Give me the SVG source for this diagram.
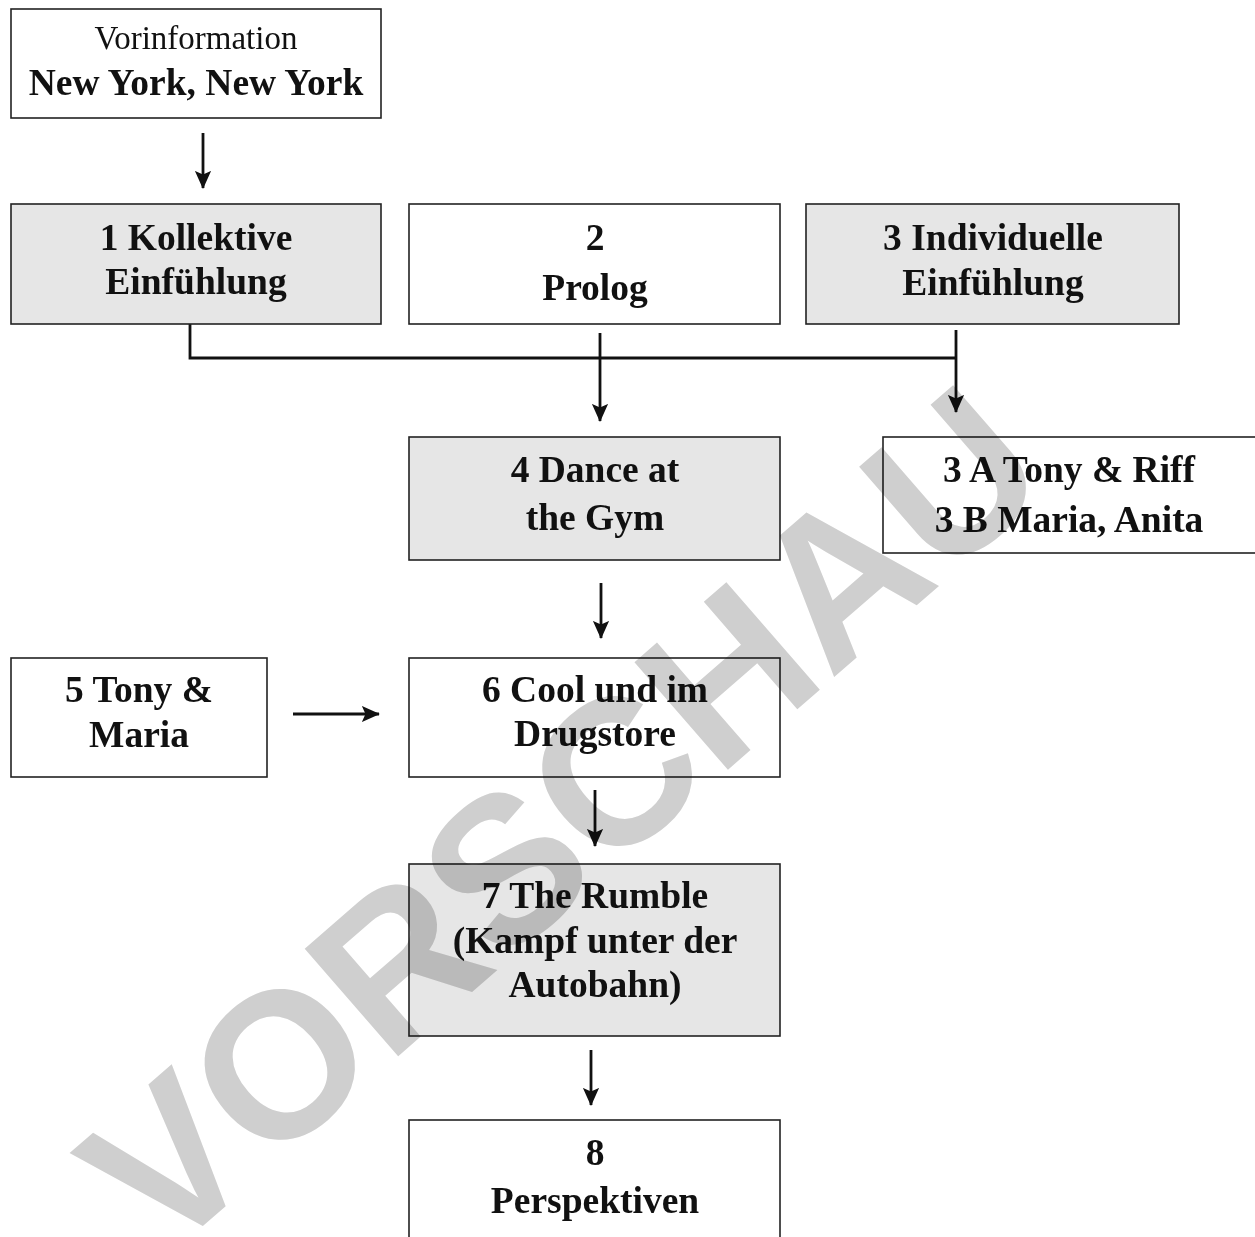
<svg xmlns="http://www.w3.org/2000/svg" width="1255" height="1237" viewBox="0 0 1255 1237">
<style>
.box{stroke:#222;stroke-width:1.6;fill:#fff}
.gray{fill:#e6e6e6}
.t{font-family:"Liberation Serif","Times New Roman",serif;font-size:37.5px;font-weight:bold;fill:#111;text-anchor:middle}
.r{font-weight:normal;font-size:33px}
.ln{stroke:#111;stroke-width:2.8;fill:none}
.wm{font-family:"Liberation Sans",Arial,sans-serif;font-weight:bold;font-size:207px;fill:#cfcfcf;text-anchor:middle;mix-blend-mode:multiply}
</style>
<defs>
<marker id="ah" markerUnits="userSpaceOnUse" markerWidth="18" markerHeight="22" viewBox="0 0 20 18" refX="19" refY="9" orient="auto">
<path d="M0,0 L20,9 L0,18 L4,9 Z" fill="#111"/>
</marker>
</defs>
<rect width="1255" height="1237" fill="#fff"/>
<g id="connectors">
<line class="ln" x1="203" y1="133" x2="203" y2="188" marker-end="url(#ah)"/>
<polyline class="ln" points="190,324 190,358 956,358"/>
<line class="ln" x1="956" y1="330" x2="956" y2="412" marker-end="url(#ah)"/>
<line class="ln" x1="600" y1="333" x2="600" y2="421" marker-end="url(#ah)"/>
<line class="ln" x1="601" y1="583" x2="601" y2="638" marker-end="url(#ah)"/>
<line class="ln" x1="293" y1="714" x2="379" y2="714" marker-end="url(#ah)"/>
<line class="ln" x1="595" y1="790" x2="595" y2="846" marker-end="url(#ah)"/>
<line class="ln" x1="591" y1="1050" x2="591" y2="1105" marker-end="url(#ah)"/>
</g>
<g id="n0"><rect class="box" x="11" y="9" width="370" height="109"/>
<text class="t r" x="196" y="49">Vorinformation</text>
<text class="t" x="196" y="95">New York, New York</text></g>
<g id="n1"><rect class="box gray" x="11" y="204" width="370" height="120"/>
<text class="t" x="196" y="250">1 Kollektive</text>
<text class="t" x="196" y="294">Einfühlung</text></g>
<g id="n2"><rect class="box" x="409" y="204" width="371" height="120"/>
<text class="t" x="595" y="250">2</text>
<text class="t" x="595" y="300">Prolog</text></g>
<g id="n3"><rect class="box gray" x="806" y="204" width="373" height="120"/>
<text class="t" x="993" y="250">3 Individuelle</text>
<text class="t" x="993" y="295">Einfühlung</text></g>
<g id="n3ab"><rect class="box" x="883" y="437" width="380" height="116"/>
<text class="t" x="1069" y="482">3 A Tony &amp; Riff</text>
<text class="t" x="1069" y="532">3 B Maria, Anita</text></g>
<g id="n4"><rect class="box gray" x="409" y="437" width="371" height="123"/>
<text class="t" x="595" y="482">4 Dance at</text>
<text class="t" x="595" y="530">the Gym</text></g>
<g id="n5"><rect class="box" x="11" y="658" width="256" height="119"/>
<text class="t" x="139" y="702">5 Tony &amp;</text>
<text class="t" x="139" y="747">Maria</text></g>
<g id="n6"><rect class="box" x="409" y="658" width="371" height="119"/>
<text class="t" x="595" y="702">6 Cool und im</text>
<text class="t" x="595" y="746">Drugstore</text></g>
<g id="n7"><rect class="box gray" x="409" y="864" width="371" height="172"/>
<text class="t" x="595" y="908">7 The Rumble</text>
<text class="t" x="595" y="953">(Kampf unter der</text>
<text class="t" x="595" y="997">Autobahn)</text></g>
<g id="n8"><rect class="box" x="409" y="1120" width="371" height="130"/>
<text class="t" x="595" y="1165">8</text>
<text class="t" x="595" y="1213">Perspektiven</text></g>
<text class="wm" x="609" y="873" transform="rotate(-41 609 873)">VORSCHAU</text>
</svg>
